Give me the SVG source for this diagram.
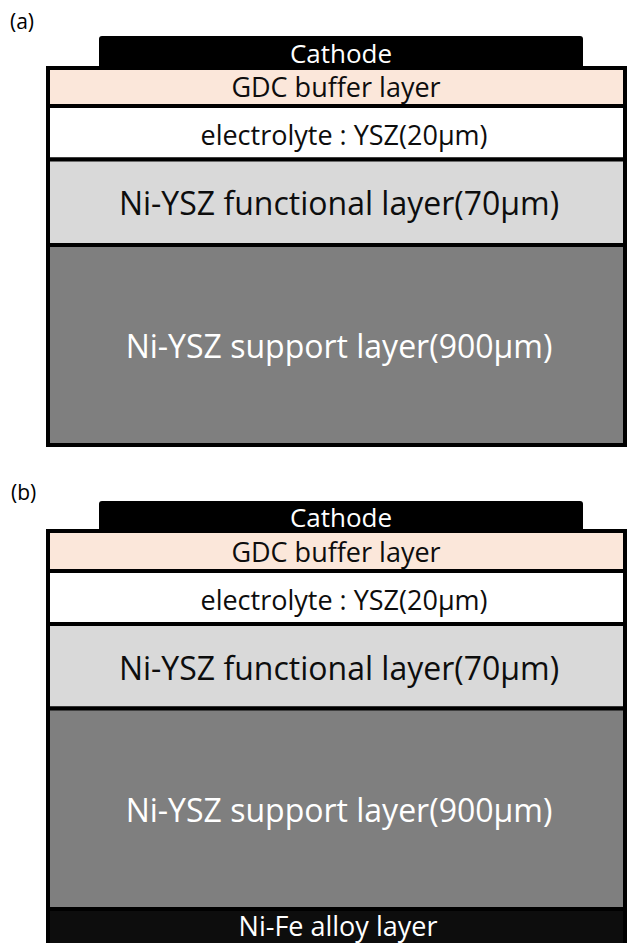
<svg xmlns="http://www.w3.org/2000/svg" width="627" height="943" viewBox="0 0 627 943">
  <style>
    text { font-family: "Open Sans", "Liberation Sans", sans-serif; text-anchor: middle; }
    .lbl { font-size: 21px; fill: #000; text-anchor: start; }
    .layer { stroke: #000; stroke-width: 4; }
    .cath { fill: #000; }
    .gdc { fill: #FBE7DA; }
    .ely { fill: #FFFFFF; }
    .fun { fill: #D9D9D9; }
    .sup { fill: #7F7F7F; }
    .nife { fill: #0D0D0D; }
    .t-s { font-size: 27px; }
    .t-c { font-size: 26px; }
    .t-l { font-size: 32px; }
    .w { fill: #FFFFFF; }
    .k { fill: #0D0D0D; }
  </style>

  <g id="panel-a">
    <text class="lbl" x="10" y="29">(a)</text>
    <g id="a-cathode">
      <path class="cath" d="M99 67 V39 Q99 36 102 36 H580 Q583 36 583 39 V67 Z"/>
      <text class="t-c w" x="341" y="63">Cathode</text>
    </g>
    <g id="a-gdc">
      <rect class="layer gdc" x="48" y="68" width="577" height="38"/>
      <text class="t-s k" x="336" y="97">GDC buffer layer</text>
    </g>
    <g id="a-electrolyte">
      <rect class="layer ely" x="48" y="106" width="577" height="53.5"/>
      <text class="t-s k" x="344" y="145">electrolyte : YSZ(20μm)</text>
    </g>
    <g id="a-functional">
      <rect class="layer fun" x="48" y="159.5" width="577" height="85.5"/>
      <text class="t-l k" x="339" y="215">Ni-YSZ functional layer(70μm)</text>
    </g>
    <g id="a-support">
      <rect class="layer sup" x="48" y="245" width="577" height="200"/>
      <text class="t-l w" x="339" y="358">Ni-YSZ support layer(900μm)</text>
    </g>
  </g>

  <g id="panel-b">
    <text class="lbl" x="11" y="500">(b)</text>
    <g id="b-cathode">
      <path class="cath" d="M99 532 V504 Q99 501 102 501 H580 Q583 501 583 504 V532 Z"/>
      <text class="t-c w" x="341" y="527">Cathode</text>
    </g>
    <g id="b-gdc">
      <rect class="layer gdc" x="48" y="531" width="577" height="40"/>
      <text class="t-s k" x="336" y="562">GDC buffer layer</text>
    </g>
    <g id="b-electrolyte">
      <rect class="layer ely" x="48" y="571" width="577" height="53"/>
      <text class="t-s k" x="344" y="610">electrolyte : YSZ(20μm)</text>
    </g>
    <g id="b-functional">
      <rect class="layer fun" x="48" y="624" width="577" height="84.5"/>
      <text class="t-l k" x="339" y="680">Ni-YSZ functional layer(70μm)</text>
    </g>
    <g id="b-support">
      <rect class="layer sup" x="48" y="708.5" width="577" height="200.5"/>
      <text class="t-l w" x="339" y="822">Ni-YSZ support layer(900μm)</text>
    </g>
    <g id="b-nife">
      <rect class="layer nife" x="48" y="909" width="577" height="40"/>
      <text class="t-s w" x="338" y="936">Ni-Fe alloy layer</text>
    </g>
  </g>
  <g id="connectors"/>
</svg>
